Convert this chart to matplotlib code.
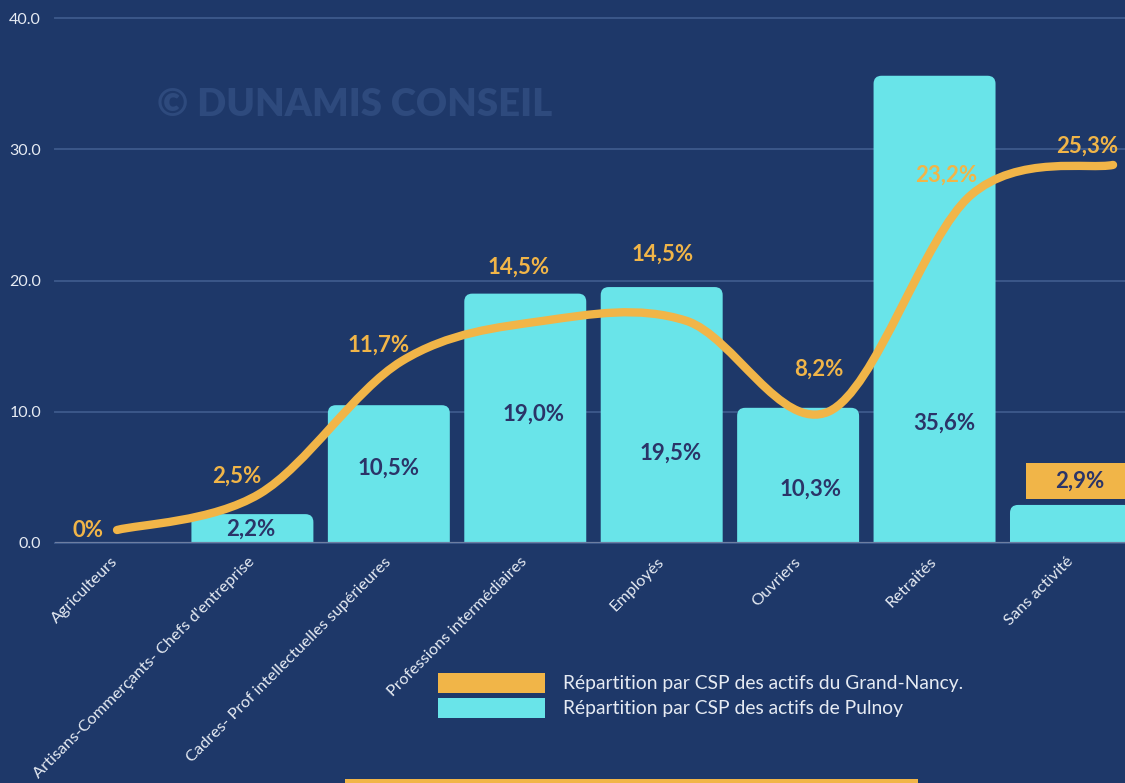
import numpy as np
import matplotlib
matplotlib.use("Agg")
import matplotlib.pyplot as plt
from matplotlib.patches import FancyBboxPatch, PathPatch, Patch, Rectangle
from matplotlib.path import Path

# Catégories socio-professionnelles
categories = ["Agriculteurs", "Artisans-Commerçants- Chefs d'entreprise",
              "Cadres- Prof intellectuelles supérieures", "Professions intermédiaires",
              "Employés", "Ouvriers", "Retraités", "Sans activité"]
pulnoy = [0.0, 2.2, 10.5, 19.0, 19.5, 10.3, 35.6, 2.9]
grand_nancy = [0.0, 2.5, 11.7, 14.5, 14.5, 8.2, 23.2, 25.3]
y_ticks = [0, 10, 20, 30, 40]

fond = "#1e3869"
cyan = "#69e4e9"
orange = "#f1b548"
encre = "#2b3468"
texte = "#e6ebf3"

plt.rcParams["font.family"] = ["Lato", "DejaVu Sans"]

fig = plt.figure(figsize=(11.25, 7.83), dpi=100, facecolor=fond)
ax = fig.add_axes([55 / 1125, 1 - 543 / 783, 1 - 55 / 1125, 525 / 783])
ax.set_facecolor(fond)
ax.set_xlim(-0.447, 7.396)
ax.set_ylim(0, 40)
for s in ax.spines.values():
    s.set_visible(False)

# grille horizontale
ax.set_yticks(y_ticks)
ax.set_yticklabels([f"{v:.1f}" for v in y_ticks], color=texte, fontsize=11.5)
ax.yaxis.grid(True, color="#3b5789", lw=1.4)
ax.set_axisbelow(True)
for gl in ax.get_ygridlines():
    gl.set_clip_on(False)
ax.axhline(0, color="#6d7ea2", lw=1.6, zorder=4)
ax.tick_params(axis="y", length=0, pad=10)

ax.set_xticks(range(len(categories)))
ax.set_xticklabels(categories, rotation=45, ha="right", va="center",
                   rotation_mode="anchor", color=texte, fontsize=11.8)
ax.tick_params(axis="x", length=0, pad=12)

# barres à coins arrondis (Pulnoy)
largeur = 0.894
r = 0.0587
asp = 10.4
for i, v in enumerate(pulnoy):
    if v <= 0:
        continue
    b = FancyBboxPatch((i - largeur / 2, -1), largeur, v + 1,
                       boxstyle=f"round,pad=0,rounding_size={r}",
                       mutation_aspect=asp, fc=cyan, ec="none", zorder=2)
    ax.add_patch(b)

# étiquettes des barres (décalage en pixels depuis le milieu de la barre)
decal_barres = [(0, 0), (-2, -1), (0, 6), (8, 4), (9, -38), (12, -14), (10, -114), (9, 43)]
for i, v in enumerate(pulnoy):
    if v <= 0:
        continue
    lab = f"{v:.1f}".replace(".", ",") + "%"
    t = ax.annotate(lab, (i, v / 2), xytext=decal_barres[i], textcoords="offset pixels",
                    ha="center", va="center", fontsize=16, fontweight="bold",
                    color=encre, zorder=5)
    if i == len(pulnoy) - 1:
        t.set_bbox(dict(boxstyle="square,pad=1.3", fc=orange, ec="none"))
        t.get_bbox_patch().set_mutation_aspect(0.25)

# filigrane
fig.text(355 / 1125, 1 - 105 / 783, "© DUNAMIS CONSEIL", fontsize=27.5,
         fontweight="heavy", color="#2e4a7d", ha="center", va="center", zorder=0.5)

# courbe lissée (Grand-Nancy) sur un axe superposé
ax2 = fig.add_axes(ax.get_position(), frameon=False)
ax2.set_xlim(-0.436, 7.084)
ax2.set_ylim(-0.9, 35.48)
ax2.axis("off")

pts = np.column_stack([np.arange(len(grand_nancy)), grand_nancy]).astype(float)
n = len(pts)
verts = [pts[0]]
codes = [Path.MOVETO]
for i in range(n - 1):
    p0 = pts[max(i - 1, 0)]
    p1 = pts[i]
    p2 = pts[i + 1]
    p3 = pts[min(i + 2, n - 1)]
    verts += [p1 + (p2 - p0) / 6, p2 - (p3 - p1) / 6, p2]
    codes += [Path.CURVE4] * 3
ax2.add_patch(PathPatch(Path(verts, codes), fill=False, ec=orange, lw=6,
                        capstyle="round", joinstyle="round"))

decal_ligne = [(-29, 0), (-23, 18), (-23, 16), (-25, 54), (-24, 67), (-10, 42), (-25, 20), (-26, 19)]
for j, v in enumerate(grand_nancy):
    lab = "0%" if v == 0 else f"{v:.1f}".replace(".", ",") + "%"
    ax2.annotate(lab, (j, v), xytext=decal_ligne[j], textcoords="offset pixels",
                 ha="center", va="center", fontsize=16, fontweight="bold", color=orange)

# légende
poignees = [Patch(fc=orange, ec="none"), Patch(fc=cyan, ec="none")]
fig.legend(poignees, ["Répartition par CSP des actifs du Grand-Nancy.",
                      "Répartition par CSP des actifs de Pulnoy"],
           loc="upper left", bbox_to_anchor=(438 / 1125, 1 - 673 / 783),
           frameon=False, fontsize=13.9, labelcolor=texte, borderpad=0,
           borderaxespad=0, handlelength=5.55, handleheight=1.2,
           labelspacing=0.26, handletextpad=0.92)

# bandeau orange en bas
fig.patches.append(Rectangle((345 / 1125, 0), (918 - 345) / 1125, 4 / 783,
                             transform=fig.transFigure, fc=orange, ec="none"))

fig.savefig("out.png", dpi=100, facecolor=fond)
